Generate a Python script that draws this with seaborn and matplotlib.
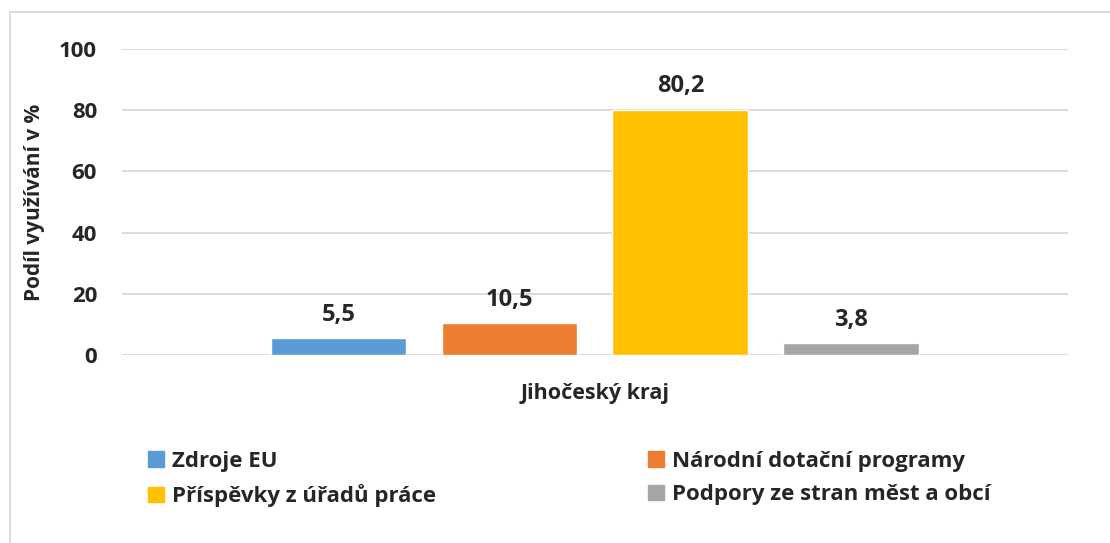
import matplotlib
matplotlib.use("Agg")
import matplotlib.pyplot as plt
import matplotlib.patches as mpatches
import seaborn as sns
import pandas as pd

# data
region = ["Jihočeský kraj"]
sources = ["Zdroje EU", "Národní dotační programy",
           "Příspěvky z úřadů práce", "Podpory ze stran měst a obcí"]
shares = [5.5, 10.5, 80.2, 3.8]
colors = ["#5B9BD5", "#ED7D31", "#FFC000", "#A5A5A5"]

df = pd.DataFrame({"kraj": region * len(sources), "zdroj": sources, "podil": shares})

sns.set_style("white")
plt.rcParams["font.family"] = ["Open Sans", "DejaVu Sans"]
plt.rcParams["font.weight"] = "bold"

fig = plt.figure(figsize=(11.1, 5.43), dpi=100)
ax = fig.add_axes([0.110, 0.346, 0.852, 0.564])

sns.barplot(data=df, x="kraj", y="podil", hue="zdroj", hue_order=sources,
            palette=colors, width=0.723, gap=0.205, saturation=1,
            legend=False, ax=ax)

ax.set_xlim(-0.5, 0.5)
ax.set_ylim(0, 100)
ax.set_yticks(range(0, 101, 20))
ax.grid(axis="y", color="#D9D9D9", linewidth=1.3)
ax.set_axisbelow(True)
for s in ax.spines.values():
    s.set_visible(False)
ax.tick_params(axis="y", length=0, pad=18, labelsize=16)
ax.tick_params(axis="x", length=0, pad=20, labelsize=15.5)
for t in ax.get_yticklabels() + ax.get_xticklabels():
    t.set_fontweight("bold")
ax.set_xlabel("")
ax.set_ylabel("Podíl využívání v %", fontsize=15, fontweight="bold")
ax.yaxis.set_label_coords(-0.081, 0.5)

for cont in ax.containers:
    ax.bar_label(cont, labels=[f"{v:.1f}".replace(".", ",") for v in cont.datavalues],
                 padding=8, fontsize=17, fontweight="bold")

# legend in two columns, placed like the original
handles = [mpatches.Patch(color=c, label=l) for c, l in zip(colors, sources)]
leg_kw = dict(frameon=False, handlelength=0.7, handleheight=0.7,
              handletextpad=0.4, labelspacing=0.55, borderaxespad=0, borderpad=0,
              prop={"weight": "bold", "size": 16})
leg1 = fig.legend(handles=[handles[0], handles[2]], loc="upper left",
                  bbox_to_anchor=(148 / 1110, 1 - 451 / 543), **leg_kw)
leg2 = fig.legend(handles=[handles[1], handles[3]], loc="upper left",
                  bbox_to_anchor=(648 / 1110, 1 - 451 / 543), **leg_kw)

# light chart border
fig.patches.append(mpatches.Rectangle((10 / 1110, -0.05), 1.2, 1 - 12 / 543 + 0.05,
                                      transform=fig.transFigure, fill=False,
                                      edgecolor="#D9D9D9", linewidth=1.3))

fig.savefig("out.png", dpi=100)
